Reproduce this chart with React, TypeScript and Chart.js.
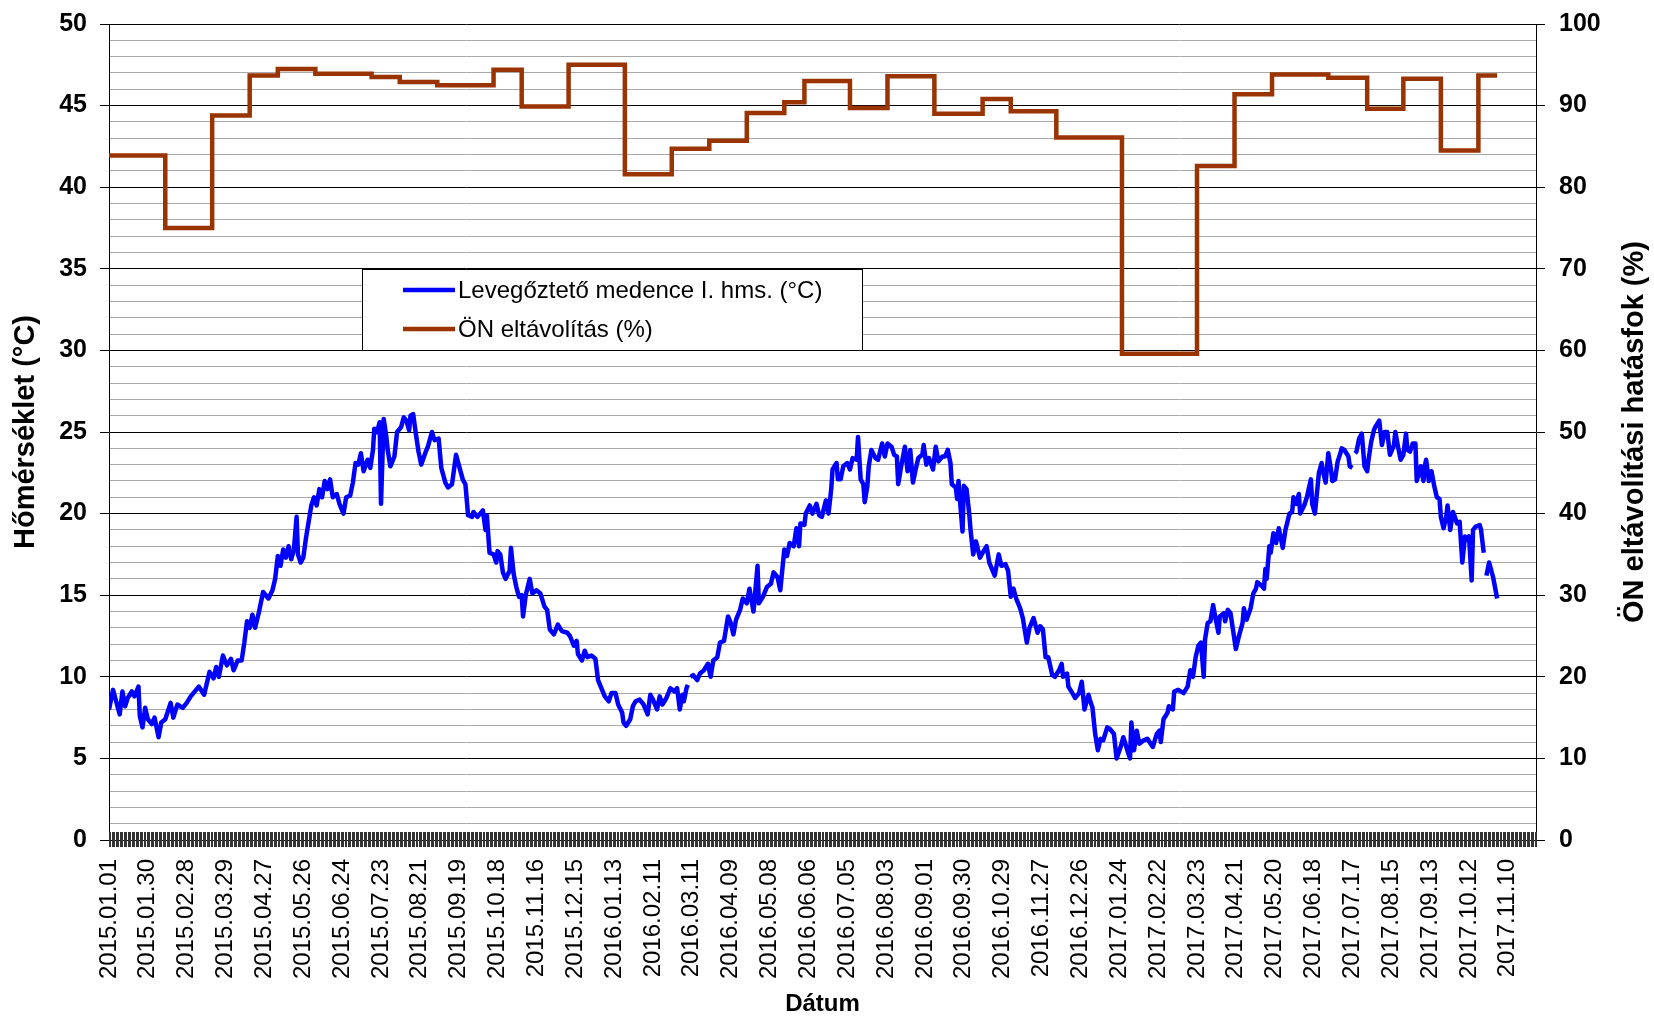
import React, { useEffect, useRef } from 'react';
import { Chart, registerables } from 'chart.js';

Chart.register(...registerables);

// ---------- data ----------
const xTickLabels = [
  '2015.01.01', '2015.01.30', '2015.02.28', '2015.03.29', '2015.04.27', '2015.05.26',
  '2015.06.24', '2015.07.23', '2015.08.21', '2015.09.19', '2015.10.18', '2015.11.16',
  '2015.12.15', '2016.01.13', '2016.02.11', '2016.03.11', '2016.04.09', '2016.05.08',
  '2016.06.06', '2016.07.05', '2016.08.03', '2016.09.01', '2016.09.30', '2016.10.29',
  '2016.11.27', '2016.12.26', '2017.01.24', '2017.02.22', '2017.03.23', '2017.04.21',
  '2017.05.20', '2017.06.18', '2017.07.17', '2017.08.15', '2017.09.13', '2017.10.12',
  '2017.11.10',
];
const xTickStepDays = 29;
const xAxisLastDay = 1065;

const yLeftTicks = [0, 5, 10, 15, 20, 25, 30, 35, 40, 45, 50];
const yRightTicks = [0, 10, 20, 30, 40, 50, 60, 70, 80, 90, 100];

const tempLabel = 'Levegőztető medence I. hms. (°C)';
const onLabel = 'ÖN eltávolítás (%)';
const xTitle = 'Dátum';
const yLeftTitle = 'Hőmérséklet (°C)';
const yRightTitle = 'ÖN eltávolítási hatásfok (%)';

// day index (0 = 2015.01.01) of each temperature reading
const tempDays = [
  0, 3, 5, 8, 10, 12, 14, 17, 19, 22, 23, 25, 27, 29, 32, 34, 37, 39, 42, 46, 48, 51, 55, 58, 61, 67, 71, 75, 78, 80,
  82, 85, 88, 91, 93, 96, 99, 101, 103, 105, 107, 109, 112, 115, 119, 122, 124, 126, 128, 130, 132, 134, 136, 138, 140, 141,
  143, 145, 147, 149, 151, 153, 155, 157, 159, 161, 163, 165, 167, 170, 172, 175, 177, 180, 182, 184, 186, 188, 190, 193,
  195, 197, 198, 200, 202, 203, 205, 207, 208, 210, 213, 215, 218, 220, 222, 224, 225, 227, 229, 231, 233, 236, 238, 241,
  243, 246, 248, 251, 253, 256, 259, 261, 264, 266, 268, 271, 272, 275, 277, 279, 281, 282, 284, 287, 289, 290, 292, 294,
  296, 299, 300, 302, 304, 306, 308, 309, 311, 314, 316, 319, 322, 325, 327, 329, 332, 335, 338, 342, 344, 347, 349, 350,
  353, 355, 357, 360, 363, 365, 368, 370, 373, 375, 378, 380, 383, 384, 386, 389, 391, 393, 396, 399, 402, 404, 406, 409,
  411, 413, 416, 419, 422, 424, 426, 428, 429, 431, 432, 433, 434, 436, 439, 441, 444, 447, 449, 451, 454, 456, 459, 462,
  464, 466, 468, 471, 473, 476, 478, 481, 482, 484, 485, 488, 491, 494, 496, 499, 501, 504, 506, 508, 511, 513, 515, 516,
  519, 520, 523, 525, 528, 530, 532, 535, 537, 539, 540, 543, 544, 546, 548, 551, 553, 555, 558, 559, 561, 563, 564, 566,
  567, 569, 572, 574, 577, 579, 581, 584, 586, 588, 589, 591, 594, 596, 597, 598, 600, 602, 604, 607, 608, 610, 612, 615,
  617, 619, 622, 624, 626, 628, 629, 632, 633, 634, 635, 637, 638, 640, 642, 643, 645, 647, 650, 652, 655, 657, 661, 664,
  666, 669, 671, 673, 675, 677, 680, 682, 685, 687, 690, 693, 695, 697, 699, 701, 704, 706, 709, 711, 712, 715, 716, 719,
  721, 724, 726, 728, 731, 732, 734, 736, 738, 740, 742, 745, 747, 750, 752, 755, 757, 760, 762, 763, 765, 767, 769, 772,
  775, 779, 782, 784, 785, 787, 790, 791, 794, 795, 798, 802, 805, 807, 809, 811, 813, 815, 817, 818, 820, 822, 824, 826,
  828, 829, 832, 833, 835, 837, 839, 841, 843, 846, 847, 849, 852, 854, 856, 857, 860, 862, 863, 864, 866, 867, 869, 871,
  873, 876, 878, 881, 883, 884, 886, 888, 889, 892, 894, 897, 898, 900, 903, 905, 906, 908, 910, 912, 913, 915, 917, 919,
  920, 922, 925, 926, 928, 929, 930, 931, 933, 935, 937, 939, 940, 942, 944, 945, 948, 950, 952, 954, 956, 959, 960, 962,
  964, 966, 968, 969, 971, 973, 975, 976, 979, 981, 982, 983, 985, 987, 989, 991, 993, 994, 996, 998, 999, 1001, 1003, 1004,
  1006, 1008, 1010, 1012, 1014, 1015, 1017, 1018, 1020, 1023, 1024, 1026, 1027, 1028, 1030, 1033, 1036,
];
// temperature (°C); null = missing reading (gap in the line)
const tempValues = [
  8.0, 9.2, 8.6, 7.7, 9.1, 8.2, 8.7, 9.1, 8.8, 9.4, 7.6, 6.9, 8.1, 7.4, 7.1, 7.5, 6.3, 7.2, 7.4, 8.4, 7.5, 8.3, 8.1, 8.4, 8.8, 9.4, 8.9, 10.3, 9.9, 10.6,
  10.0, 11.3, 10.7, 11.1, 10.4, 11.0, 11.0, 12.1, 13.4, 13.0, 13.8, 13.0, 14.0, 15.2, 14.8, 15.3, 16.0, 17.4, 16.8, 17.8, 17.3, 18.0, 17.2, 17.8, 19.8, 17.5,
  17.0, 17.3, 18.5, 19.5, 20.5, 21.0, 20.5, 21.5, 21.0, 22.0, 21.5, 22.1, 21.0, 21.2, 20.6, 20.0, 21.0, 21.1, 21.9, 23.1, 23.0, 23.7, 22.6, 23.3,
  22.8, 23.9, 25.2, 25.0, 25.6, 20.6, 25.8, 24.7, 23.9, 22.9, 23.5, 25.0, 25.3, 25.9, 25.7, 25.1, 26.0, 26.1, 24.9, 23.8, 23.0, 23.7, 24.1, 25.0,
  24.5, 24.6, 22.8, 21.9, 21.6, 21.8, 23.6, 23.0, 22.1, 21.8, 19.9, 19.8, 20.1, 19.8, 20.0, 20.2, 19.0, 19.9, 17.6, 17.5, 17.0, 17.7, 17.5, 16.4,
  16.0, 16.5, 17.9, 16.3, 15.5, 14.9, 15.0, 13.7, 15.0, 16.0, 15.1, 15.3, 15.1, 14.3, 14.1, 12.9, 12.6, 13.2, 12.8, 12.7, 12.5, 11.9, 12.2, 11.4,
  11.0, 11.6, 11.2, 11.3, 11.1, 9.8, 9.2, 8.8, 8.5, 9.0, 9.0, 8.3, 7.8, 7.2, 7.0, 7.4, 8.2, 8.5, 8.6, 8.3, 7.7, 8.9, 8.6, 8.0,
  8.8, 8.3, 8.7, 9.3, 9.1, 9.3, 8.0, 8.9, 8.5, 9.3, 9.5, null, 10.0, 10.1, 9.8, 10.2, 10.4, 10.8, 10.0, 11.0, 11.2, 12.1, 12.2, 13.7,
  13.3, 12.6, 13.5, 14.1, 14.8, 14.5, 15.4, 14.0, 14.9, 16.8, 14.5, 14.9, 15.5, 15.7, 16.4, 16.1, 15.3, 17.8, 17.4, 18.2, 18.0, 19.1, 18.0, 19.4,
  19.3, 20.0, 20.5, 20.0, 20.6, 19.9, 19.8, 20.8, 20.0, 21.5, 22.7, 23.1, 22.1, 22.1, 22.9, 23.1, 22.7, 23.4, 23.3, 24.7, 22.1, 21.8, 20.7, 21.7,
  22.9, 23.9, 23.4, 23.3, 24.3, 23.5, 24.3, 24.1, 23.6, 23.5, 21.8, 22.8, 24.1, 22.6, 22.8, 23.9, 21.9, 22.7, 23.4, 23.6, 24.2, 23.0, 23.4, 22.7,
  24.1, 23.2, 23.5, 23.5, 23.9, 23.1, 21.8, 21.6, 20.9, 22.0, 20.9, 18.9, 21.7, 21.5, 20.0, 19.0, 17.5, 18.3, 17.3, 17.6, 18.0, 17.0, 16.2, 17.5,
  16.8, 16.9, 16.5, 14.9, 15.4, 14.8, 14.2, 13.6, 12.1, 13.0, 13.6, 12.7, 13.1, 12.9, 11.2, 11.2, 10.1, 10.0, 10.4, 10.8, 10.0, 10.2, 9.4, 9.0,
  8.7, 9.0, 9.7, 8.0, 8.9, 8.6, 8.1, 6.5, 5.5, 6.2, 6.1, 6.9, 6.8, 6.5, 5.0, 5.7, 6.3, 5.5, 5.0, 7.2, 5.5, 6.7, 5.9, 6.1,
  6.2, 5.7, 6.5, 6.7, 6.0, 7.4, 7.8, 8.2, 8.0, 9.1, 9.2, 9.0, 9.4, 10.4, 10.0, 11.2, 11.9, 12.1, 10.0, 12.3, 13.3, 13.4, 14.4, 13.5,
  12.7, 13.7, 13.9, 13.4, 14.1, 13.9, 12.8, 11.7, 12.4, 13.3, 14.2, 13.5, 14.2, 15.1, 15.4, 15.8, 15.6, 15.4, 16.6, 16.0, 18.0, 17.6, 18.8, 18.2,
  19.1, 17.9, 19.0, 20.0, 20.1, 21.0, 20.6, 21.2, 20.0, 20.5, 21.0, 22.1, 20.6, 20.0, 22.5, 23.1, 22.6, 21.9, 23.7, 22.7, 22.0, 22.1, 23.2, 23.7,
  24.0, 23.9, 23.5, 22.9, 22.8, null, 23.7, 23.8, 24.6, 24.9, 22.9, 22.6, 23.3, 24.4, 25.1, 25.3, 25.7, 24.2, 25.0, 25.0, 23.6, 24.2, 25.0, 24.1,
  23.3, 23.6, 24.9, 23.9, 23.8, 24.3, 24.3, 22.0, 22.9, 22.0, 22.9, 23.3, 22.0, 22.6, 21.7, 21.0, 20.9, 19.8, 19.1, 19.8, 20.5, 19.0, 20.1, 19.9,
  19.4, 19.5, 17.0, 18.6, 18.4, 18.6, 15.9, 19.0, 19.2, 19.3, 19.0, 17.6, null, 16.2, 17.0, 16.1, 14.8,
];

// ÖN removal efficiency: day on which each level starts, and the level (%)
const onStepDays = [
  0, 42, 77, 105, 126, 154, 196, 217, 245, 287, 308, 343, 385, 420, 448, 476, 504,
  519, 553, 581, 616, 652, 673, 707, 756, 812, 840, 868, 910, 939, 966, 994, 1022, 1036,
];
const onStepValues = [
  83.9, 75.0, 88.8, 93.7, 94.5, 93.9, 93.5, 92.9, 92.5, 94.4, 89.9, 95.0, 81.6, 84.7, 85.7, 89.1, 90.4,
  93.0, 89.7, 93.6, 89.0, 90.8, 89.3, 86.1, 59.6, 82.6, 91.4, 93.8, 93.4, 89.6, 93.3, 84.5, 93.7, 93.7,
];

// ---------- styling ----------
const FONT = "'Liberation Sans', Arial, Helvetica, sans-serif";
const BLUE = '#0000ff';
const BROWN = '#993300';

const dayTicksPlugin = {
  id: 'dayTicks',
  afterDraw(chart: any) {
    const { ctx, chartArea } = chart;
    const xs = chart.scales.x;
    ctx.save();
    ctx.strokeStyle = '#333333';
    ctx.lineWidth = 1;
    ctx.beginPath();
    for (let d = 0; d <= xAxisLastDay; d++) {
      const px = Math.round(xs.getPixelForValue(d)) + 0.5;
      ctx.moveTo(px, chartArea.bottom - 8);
      ctx.lineTo(px, chartArea.bottom + 7);
    }
    ctx.stroke();
    ctx.restore();
  },
};

const rightTitlePlugin = {
  id: 'rightTitle',
  afterDraw(chart: any) {
    const { ctx, chartArea } = chart;
    ctx.save();
    ctx.translate(1635, (chartArea.top + chartArea.bottom) / 2);
    ctx.rotate(-Math.PI / 2);
    ctx.fillStyle = '#000000';
    ctx.font = `bold 29px ${FONT}`;
    ctx.textAlign = 'center';
    ctx.textBaseline = 'middle';
    ctx.fillText(yRightTitle, 0, 0);
    ctx.restore();
  },
};

const legendBoxPlugin = {
  id: 'legendBox',
  afterDraw(chart: any) {
    const { ctx } = chart;
    const bx = 362, by = 269, bw = 500, bh = 81;
    ctx.save();
    ctx.fillStyle = '#ffffff';
    ctx.fillRect(bx, by, bw, bh);
    ctx.strokeStyle = '#000000';
    ctx.lineWidth = 1;
    ctx.strokeRect(bx + 0.5, by + 0.5, bw, bh);
    chart.data.datasets.forEach((ds: any, i: number) => {
      const cy = by + 21 + i * 39;
      ctx.strokeStyle = ds.borderColor;
      ctx.lineWidth = 4.5;
      ctx.beginPath();
      ctx.moveTo(403, cy);
      ctx.lineTo(455, cy);
      ctx.stroke();
      ctx.fillStyle = '#000000';
      ctx.font = `24px ${FONT}`;
      ctx.textBaseline = 'middle';
      ctx.textAlign = 'left';
      ctx.fillText(ds.label, 458, cy + 1);
    });
    ctx.restore();
  },
};

export default function App() {
  const canvasRef = useRef<HTMLCanvasElement | null>(null);

  useEffect(() => {
    const canvas = canvasRef.current;
    if (!canvas) return;
    Chart.defaults.font.family = FONT;
    Chart.defaults.color = '#000000';

    const tempData = tempDays.map((d, i) => ({ x: d, y: tempValues[i] }));
    const onData = onStepDays.map((d, i) => ({ x: d, y: onStepValues[i] }));

    const chart = new Chart(canvas, {
      type: 'line',
      data: {
        datasets: [
          {
            label: tempLabel,
            data: tempData as any,
            yAxisID: 'y',
            borderColor: BLUE,
            backgroundColor: BLUE,
            borderWidth: 4.5,
            pointRadius: 0,
            tension: 0,
            spanGaps: false,
            borderJoinStyle: 'round',
          },
          {
            label: onLabel,
            data: onData as any,
            yAxisID: 'y2',
            borderColor: BROWN,
            backgroundColor: BROWN,
            borderWidth: 4.5,
            pointRadius: 0,
            stepped: true,
          },
        ],
      },
      options: {
        responsive: false,
        maintainAspectRatio: false,
        devicePixelRatio: 1,
        animation: false,
        layout: { padding: { top: 24, left: 0, right: 0, bottom: 0 } },
        plugins: {
          legend: { display: false },
          tooltip: { enabled: false },
        },
        scales: {
          x: {
            type: 'linear',
            position: 'bottom',
            min: 0,
            max: xAxisLastDay,
            afterBuildTicks: (scale: any) => {
              scale.ticks = xTickLabels.map((_, i) => ({ value: i * xTickStepDays }));
            },
            afterFit: (scale: any) => {
              scale.height = 176;
            },
            grid: { display: false, drawTicks: false },
            border: { display: true, color: '#000000', width: 1 },
            ticks: {
              autoSkip: false,
              maxRotation: 90,
              minRotation: 90,
              padding: 19,
              color: '#000000',
              font: { size: 24, family: FONT },
              callback: (value: any) => {
                const idx = Math.round(Number(value) / xTickStepDays);
                return xTickLabels[idx] ?? '';
              },
            },
            title: {
              display: true,
              text: xTitle,
              color: '#000000',
              font: { size: 24, weight: 'bold', family: FONT, lineHeight: 1 },
              padding: { top: 0, bottom: 0 },
            },
          },
          y: {
            type: 'linear',
            position: 'left',
            min: 0,
            max: 50,
            afterBuildTicks: (scale: any) => {
              const t = [];
              for (let v = 0; v <= 50; v++) t.push({ value: v });
              scale.ticks = t;
            },
            afterFit: (scale: any) => {
              scale.width = 109;
              scale.paddingTop = 0;
              scale.paddingBottom = 0;
            },
            grid: {
              color: (c: any) => (c.tick && c.tick.value % 5 === 0 ? '#000000' : '#a8a8a8'),
              tickColor: (c: any) => (c.tick && c.tick.value % 5 === 0 ? '#000000' : 'rgba(0,0,0,0)'),
              lineWidth: 1,
              tickLength: 9,
            },
            border: { display: true, color: '#000000', width: 1 },
            ticks: {
              autoSkip: false,
              padding: 13,
              color: '#000000',
              font: { size: 25, weight: 'bold', family: FONT },
              callback: (value: any) => (yLeftTicks.includes(Number(value)) ? String(value) : ''),
            },
            title: {
              display: true,
              text: yLeftTitle,
              color: '#000000',
              font: { size: 29, weight: 'bold', family: FONT, lineHeight: 1 },
              padding: { top: 11, bottom: 0 },
            },
          },
          y2: {
            type: 'linear',
            position: 'right',
            min: 0,
            max: 100,
            afterBuildTicks: (scale: any) => {
              scale.ticks = yRightTicks.map((v) => ({ value: v }));
            },
            afterFit: (scale: any) => {
              scale.width = 118;
              scale.paddingTop = 0;
              scale.paddingBottom = 0;
            },
            grid: {
              drawOnChartArea: false,
              color: '#000000',
              tickColor: '#000000',
              tickLength: 9,
            },
            border: { display: true, color: '#000000', width: 1 },
            ticks: {
              autoSkip: false,
              padding: 14,
              color: '#000000',
              font: { size: 25, weight: 'bold', family: FONT },
              callback: (value: any) => String(value),
            },
            title: { display: false },
          },
        },
      } as any,
      plugins: [dayTicksPlugin, legendBoxPlugin, rightTitlePlugin],
    });

    return () => {
      chart.destroy();
    };
  }, []);

  return (
    <div style={{ position: 'absolute', left: 0, top: 0, width: 1654, height: 1016, background: '#ffffff' }}>
      <canvas ref={canvasRef} width={1654} height={1016} style={{ display: 'block', width: 1654, height: 1016 }} />
    </div>
  );
}
